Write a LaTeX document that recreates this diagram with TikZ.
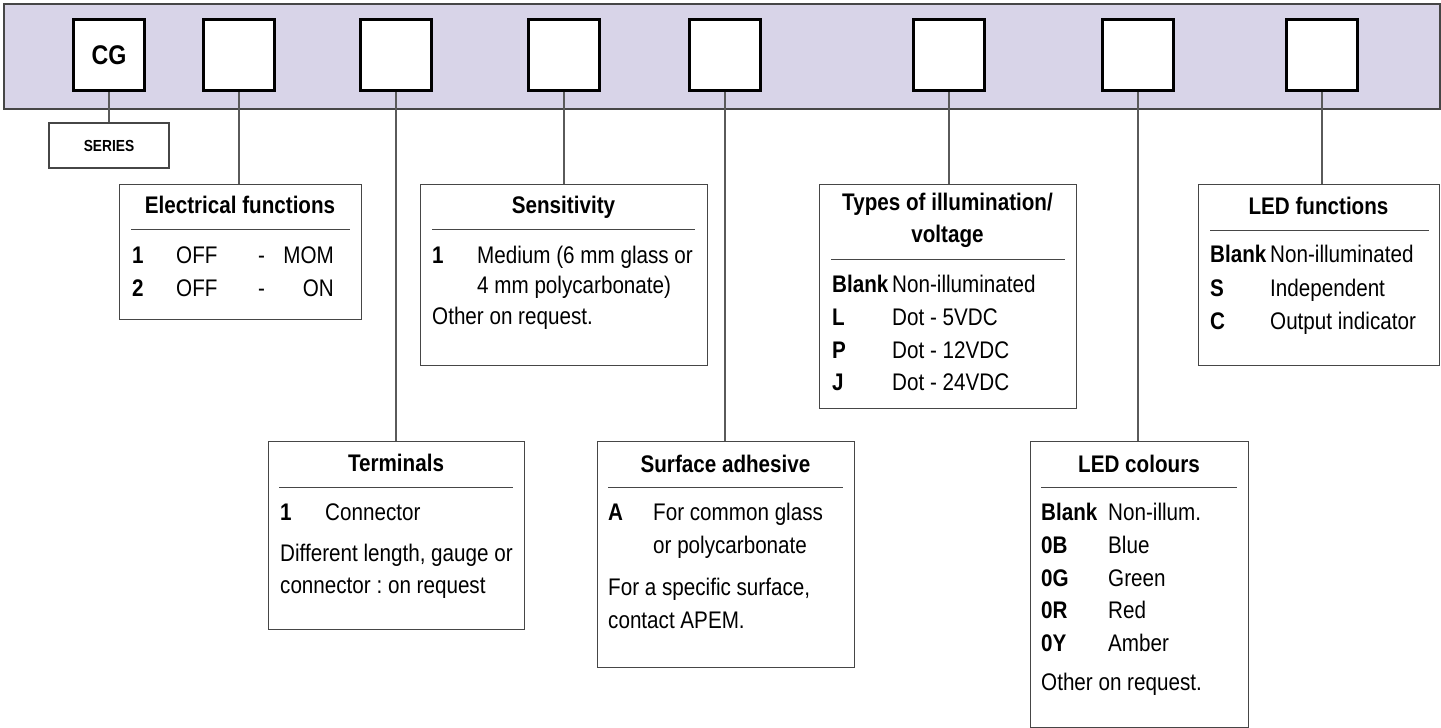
\documentclass[tikz,border=0pt]{standalone}
\usepackage{fontspec}
\setmainfont{Liberation Sans}[FakeStretch=0.86]
\definecolor{bandfill}{RGB}{216,212,232}
\definecolor{edgegray}{RGB}{70,70,70}
\definecolor{wiregray}{RGB}{90,90,90}
\newcommand\specsize{\fontsize{24}{28}\selectfont}
\tikzset{
  band/.style={draw=edgegray, line width=1.5pt, fill=bandfill, rectangle, inner sep=0pt, anchor=north west},
  slot/.style={draw=black, line width=3pt, fill=white, rectangle, minimum size=71pt, inner sep=0pt, font=\bfseries\fontsize{27}{30}\selectfont},
  spec/.style={draw=edgegray, line width=1.3pt, fill=white, rectangle, inner sep=0pt, anchor=north west},
  seriesbox/.style={draw=edgegray, line width=1.3pt, fill=white, rectangle, inner sep=0pt, font=\bfseries\fontsize{16}{18}\selectfont},
  wire/.style={draw=wiregray, line width=1.3pt},
  rulel/.style={draw=edgegray, line width=1pt},
  ttl/.style={font=\bfseries\specsize, anchor=base, inner sep=0pt},
  txt/.style={font=\specsize, anchor=base west, inner sep=0pt},
  txtr/.style={font=\specsize, anchor=base east, inner sep=0pt},
  keyt/.style={font=\bfseries\specsize, anchor=base west, inner sep=0pt}
}
\begin{document}
\frenchspacing
\begin{tikzpicture}[x=1pt,y=-1pt]
\useasboundingbox (0,0) rectangle (1441,728);
% banner and code slots
\node[band, minimum width=1436pt, minimum height=105pt] (banner) at (3,3) {};
\node[slot] (s1) at (109,55) {CG};
\node[slot] (s2) at (239,55) {};
\node[slot] (s3) at (396,55) {};
\node[slot] (s4) at (564,55) {};
\node[slot] (s5) at (725,55) {};
\node[slot] (s6) at (949,55) {};
\node[slot] (s7) at (1138,55) {};
\node[slot] (s8) at (1322,55) {};
% boxes
\node[seriesbox, minimum width=120pt, minimum height=45pt] (series) at (109,145.5) {SERIES};
\node[spec, minimum width=242pt, minimum height=135pt] (elec) at (119,184) {};
\node[spec, minimum width=287pt, minimum height=181pt] (sens) at (420,184) {};
\node[spec, minimum width=257pt, minimum height=224pt] (illu) at (819,184) {};
\node[spec, minimum width=241pt, minimum height=181pt] (ledf) at (1198,184) {};
\node[spec, minimum width=256pt, minimum height=188pt] (term) at (268,441) {};
\node[spec, minimum width=257pt, minimum height=226pt] (surf) at (597,441) {};
\node[spec, minimum width=218pt, minimum height=286pt] (ledc) at (1030,441) {};
% connectors
\draw[wire] (s1.south) -- (s1.south |- series.north);
\draw[wire] (s2.south) -- (s2.south |- elec.north);
\draw[wire] (s3.south) -- (s3.south |- term.north);
\draw[wire] (s4.south) -- (s4.south |- sens.north);
\draw[wire] (s5.south) -- (s5.south |- surf.north);
\draw[wire] (s6.south) -- (s6.south |- illu.north);
\draw[wire] (s7.south) -- (s7.south |- ledc.north);
\draw[wire] (s8.south) -- (s8.south |- ledf.north);
% Electrical functions
\node[ttl] (elecT) at (240,213) {Electrical functions};
\draw[rulel] (131,229) -- (350,229);
\node[keyt] (e1k) at (132,263) {1};
\node[txt] (e1a) at (176,263) {OFF};
\node[txt] (e1b) at (258,263) {-};
\node[txtr] (e1c) at (334,263) {MOM};
\node[keyt] (e2k) at (132,296) {2};
\node[txt] (e2a) at (176,296) {OFF};
\node[txt] (e2b) at (258,296) {-};
\node[txtr] (e2c) at (334,296) {ON};
% Sensitivity
\node[ttl] (sensT) at (563.5,213) {Sensitivity};
\draw[rulel] (432,229) -- (695,229);
\node[keyt] (s1k) at (432,263) {1};
\node[txt] (s1v) at (477,263) {Medium (6 mm glass or};
\node[txt] (s2v) at (477,293) {4 mm polycarbonate)};
\node[txt] (s3v) at (432,324) {Other on request.};
% Types of illumination
\node[ttl] (illuT1) at (947.5,210) {Types of illumination/};
\node[ttl] (illuT2) at (947.5,242) {voltage};
\draw[rulel] (831,259) -- (1065,259);
\node[keyt] (i1k) at (832,292) {Blank};
\node[txt] (i1v) at (892,292) {Non-illuminated};
\node[keyt] (i2k) at (832,325) {L};
\node[txt] (i2v) at (892,325) {Dot - 5VDC};
\node[keyt] (i3k) at (832,358) {P};
\node[txt] (i3v) at (892,358) {Dot - 12VDC};
\node[keyt] (i4k) at (832,390) {J};
\node[txt] (i4v) at (892,390) {Dot - 24VDC};
% LED functions
\node[ttl] (ledfT) at (1318.5,214) {LED functions};
\draw[rulel] (1210,230) -- (1429,230);
\node[keyt] (f1k) at (1210,262) {Blank};
\node[txt] (f1v) at (1270,262) {Non-illuminated};
\node[keyt] (f2k) at (1210,296) {S};
\node[txt] (f2v) at (1270,296) {Independent};
\node[keyt] (f3k) at (1210,329) {C};
\node[txt] (f3v) at (1270,329) {Output indicator};
% Terminals
\node[ttl] (termT) at (396,471) {Terminals};
\draw[rulel] (279,487) -- (513,487);
\node[keyt] (t1k) at (280,520) {1};
\node[txt] (t1v) at (325,520) {Connector};
\node[txt] (t2v) at (280,561) {Different length, gauge or};
\node[txt] (t3v) at (280,593) {connector : on request};
% Surface adhesive
\node[ttl] (surfT) at (725.5,472) {Surface adhesive};
\draw[rulel] (608,487) -- (843,487);
\node[keyt] (a1k) at (608,520) {A};
\node[txt] (a1v) at (653,520) {For common glass};
\node[txt] (a2v) at (653,553) {or polycarbonate};
\node[txt] (a3v) at (608,595) {For a specific surface,};
\node[txt] (a4v) at (608,628) {contact APEM.};
% LED colours
\node[ttl] (ledcT) at (1139,472) {LED colours};
\draw[rulel] (1041,487) -- (1237,487);
\node[keyt] (c1k) at (1041,520) {Blank};
\node[txt] (c1v) at (1108,520) {Non-illum.};
\node[keyt] (c2k) at (1041,553) {0B};
\node[txt] (c2v) at (1108,553) {Blue};
\node[keyt] (c3k) at (1041,586) {0G};
\node[txt] (c3v) at (1108,586) {Green};
\node[keyt] (c4k) at (1041,618) {0R};
\node[txt] (c4v) at (1108,618) {Red};
\node[keyt] (c5k) at (1041,651) {0Y};
\node[txt] (c5v) at (1108,651) {Amber};
\node[txt] (c6v) at (1041,690) {Other on request.};
\end{tikzpicture}
\end{document}
